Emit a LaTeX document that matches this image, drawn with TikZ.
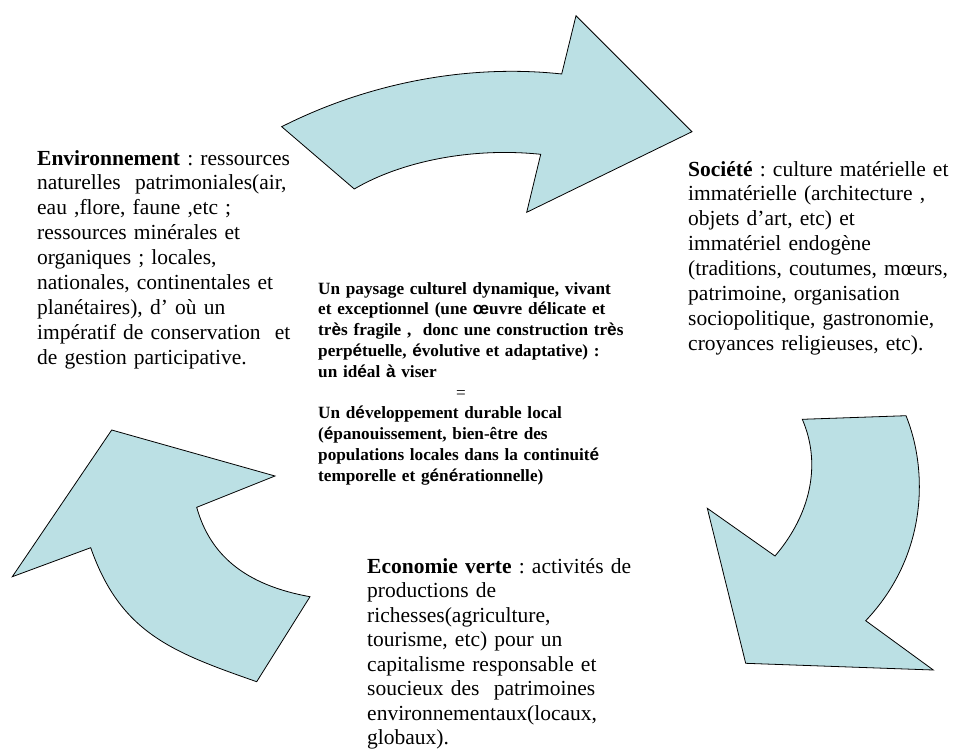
\documentclass[tikz,border=0pt]{standalone}
\usepackage{fontspec}
\setmainfont{Liberation Serif}
\newfontfamily\accsans{Liberation Sans}
\definecolor{arrowfill}{RGB}{187,224,228}
\newcommand{\sa}[1]{{\accsans #1}}
\tikzset{
  bigarrow/.style={draw=black, line width=0.8pt, fill=arrowfill, line join=miter},
  sidetext/.style={anchor=base west, inner sep=0pt, align=left, text width=330pt,
    font=\frenchspacing\fontsize{21.5}{24.9}\selectfont},
  centretext/.style={anchor=base west, inner sep=0pt, align=left, text width=330pt,
    font=\frenchspacing\fontsize{17.2}{20.8}\selectfont\bfseries}
}
\begin{document}
\begin{tikzpicture}[x=1pt,y=-1pt]
\useasboundingbox (0,0) rectangle (957,749);

% top arrow
\path[bigarrow] (281.7,126.7) .. controls (370,82) and (470,64) .. (561.7,74)
  -- (576,15.7) -- (692,131.7) -- (526.7,212.3) -- (540.7,154.3)
  .. controls (470,147) and (400,162) .. (354.3,189) -- cycle;

% right arrow
\path[bigarrow] (802.3,419.3) -- (906,415.7) .. controls (928,470) and (928,555) .. (865.7,620.7)
  -- (933.3,670) -- (745.7,663.3) -- (707.3,508.3) -- (775,556)
  .. controls (810,515) and (822,465) .. (802.3,419.3) -- cycle;

% left arrow
\path[bigarrow] (111.7,430) -- (275,476) -- (196.7,507.3)
  .. controls (210,555) and (245,585) .. (310,596.7) -- (256.7,681.7)
  .. controls (171.7,652) and (120.5,632.7) .. (90.7,547.7) -- (12.3,576.7) -- cycle;

\node[sidetext] (env) at (37,165) {\textbf{Environnement} : ressources\\
naturelles\ \ patrimoniales(air,\\
eau ,flore, faune ,etc ;\\
ressources minérales et\\
organiques ; locales,\\
nationales, continentales et\\
planétaires), d’ où un\\
impératif de conservation\ \ et\\
de gestion participative.};

\node[sidetext] (soc) at (688,176) {\textbf{Société} : culture matérielle et\\
immatérielle (architecture ,\\
objets d’art, etc) et\\
immatériel endogène\\
(traditions, coutumes, mœurs,\\
patrimoine, organisation\\
sociopolitique, gastronomie,\\
croyances religieuses, etc).};

\node[sidetext, font=\frenchspacing\fontsize{21.5}{24.5}\selectfont] (eco) at (367,573) {\textbf{Economie verte} : activités de\\
productions de\\
richesses(agriculture,\\
tourisme, etc) pour un\\
capitalisme responsable et\\
soucieux des\ \ patrimoines\\
environnementaux(locaux,\\
globaux).};

\node[centretext] (centre) at (318,294) {Un paysage culturel dynamique, vivant\\
et exceptionnel (une \sa{œ}uvre d\sa{é}licate et\\
tr\sa{è}s fragile ,\ \ donc une construction tr\sa{è}s\\
perp\sa{é}tuelle, \sa{é}volutive et adaptative) :\\
un id\sa{é}al \sa{à} viser\\
\hspace*{138pt}{\mdseries =}\\
Un d\sa{é}veloppement durable local\\
(\sa{é}panouissement, bien-être des\\
populations locales dans la continuit\sa{é}\\
temporelle et g\sa{é}n\sa{é}rationnelle)};
\end{tikzpicture}
\end{document}
